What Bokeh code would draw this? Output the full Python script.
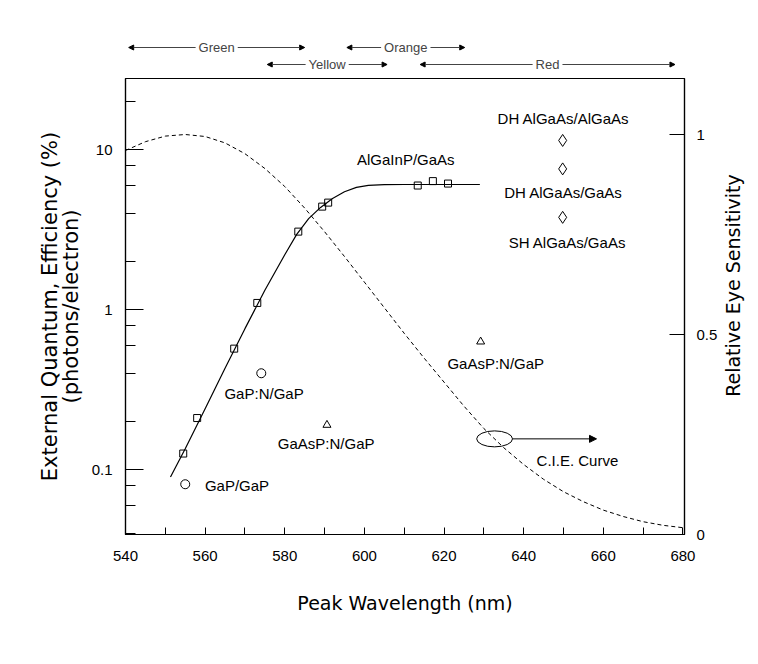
import math
import numpy as np
from bokeh.plotting import figure
from bokeh.models import (Range1d, LinearAxis, LinearScale, FixedTicker, Arrow, NormalHead,
                          Label, CustomJSTickFormatter)
from bokeh.layouts import column, row
from bokeh.embed import file_html
from bokeh.resources import INLINE
from bokeh.core.properties import value

# ---------------- data ----------------
cie_wavelength = [540, 545, 550, 555, 560, 565, 570, 575, 580, 585, 590, 595, 600, 605, 610,
                  615, 620, 625, 630, 635, 640, 645, 650, 655, 660, 665, 670, 675, 680]
cie_sensitivity = [0.96, 0.982, 0.996, 1.0, 0.995, 0.979, 0.952, 0.915, 0.870, 0.816, 0.757,
                   0.695, 0.631, 0.567, 0.503, 0.441, 0.381, 0.321, 0.265, 0.217, 0.175,
                   0.138, 0.107, 0.082, 0.061, 0.045, 0.032, 0.023, 0.017]

fit_wavelength = [551.3, 555, 560, 565, 570, 575, 580, 583, 586, 589, 592, 595, 598, 601,
                  605, 610, 629]
fit_efficiency = [0.09, 0.135, 0.24, 0.43, 0.76, 1.32, 2.2, 2.95, 3.7, 4.35, 4.95, 5.45,
                  5.8, 5.98, 6.04, 6.05, 6.05]

algainp_wavelength = [554.5, 558.0, 567.3, 573.1, 583.4, 589.4, 590.9, 613.4, 617.2, 621.0]
algainp_efficiency = [0.126, 0.21, 0.57, 1.1, 3.07, 4.4, 4.66, 5.96, 6.35, 6.13]

gap_wavelength = [555.0, 574.1]
gap_efficiency = [0.081, 0.40]

gaasp_wavelength = [590.6, 629.2]
gaasp_efficiency = [0.19, 0.63]

algaas_wavelength = [649.8, 649.8, 649.8]
algaas_efficiency = [11.4, 7.57, 3.77]

label_text = ["AlGaInP/GaAs", "DH AlGaAs/AlGaAs", "DH AlGaAs/GaAs", "SH AlGaAs/GaAs",
              "GaP:N/GaP", "GaAsP:N/GaP", "GaP/GaP", "GaAsP:N/GaP", "C.I.E. Curve"]
label_wavelength = [610.4, 650.0, 650.0, 651.0, 574.8, 590.4, 568.0, 633.0, 653.5]
label_efficiency = [8.66, 15.6, 5.39, 2.62, 0.298, 0.145, 0.079, 0.46, 0.114]

cie_callout_wavelength = 632.7
cie_arrow_end = 658.3

band_names = ["Green", "Orange", "Yellow", "Red"]
band_start = [540.8, 595.6, 575.6, 614.0]
band_end = [585.0, 625.2, 605.7, 678.0]
band_row = [1, 1, 2, 2]

x_ticks = [540, 560, 580, 600, 620, 640, 660, 680]
x_minor_ticks = [550, 570, 590, 610, 630, 650, 670]
y_ticks = [0.1, 1, 10]
y_minor_ticks = [0.04, 0.06, 0.08, 0.2, 0.4, 0.6, 0.8, 2, 4, 6, 8, 20]
eye_ticks = [0, 0.5, 1]

# ---------------- layout constants ----------------
W = 756
LB = 125
FRAME_RIGHT = 684
MAIN_W = 720
SIDE_W = W - MAIN_W
TOP_H, MAIN_H = 74, 588
label_font = "Liberation Sans"
title_font = "DejaVu Sans"

x_range = Range1d(540, 680.4)

# ---------------- colour-band strip above the chart ----------------
top = figure(width=W, height=TOP_H, x_range=x_range, y_range=Range1d(0, TOP_H),
             output_backend="svg", toolbar_location=None,
             x_axis_location=None, y_axis_location=None,
             min_border_left=LB, min_border_right=W - FRAME_RIGHT,
             min_border_top=0, min_border_bottom=0)
top.grid.visible = False
top.outline_line_color = None
row_y = {1: 27, 2: 10}
for name, s, e, r in zip(band_names, band_start, band_end, band_row):
    top.add_layout(Arrow(start=NormalHead(size=5, fill_color="black", line_color="black"),
                         end=NormalHead(size=5, fill_color="black", line_color="black"),
                         x_start=s, x_end=e, y_start=row_y[r], y_end=row_y[r],
                         line_width=1, line_color="#444444"))
for name, s, e, r in zip(band_names, band_start, band_end, band_row):
    top.add_layout(Label(x=(s + e) / 2, y=row_y[r], text=name, text_align="center",
                         text_baseline="middle", text_font=label_font, text_font_size="13px",
                         background_fill_color="white", padding=3))

# ---------------- main chart ----------------
p = figure(width=MAIN_W, height=MAIN_H, x_range=x_range, y_range=Range1d(0.0393, 27.8),
           y_axis_type="log", output_backend="svg", toolbar_location=None,
           min_border_left=LB, min_border_right=MAIN_W - FRAME_RIGHT, min_border_top=4,
           min_border_bottom=MAIN_H - (534 - TOP_H))
p.extra_y_ranges = {"eye": Range1d(0, 1.14)}
p.extra_y_scales = {"eye": LinearScale()}
p.grid.visible = False
p.outline_line_color = "black"
p.outline_line_width = 1.2
p.outline_line_alpha = 1.0
p.background_fill_color = "white"
p.border_fill_color = "white"

fmt = CustomJSTickFormatter(code="return tick.toString();")

xa = p.xaxis[0]
xa.ticker = FixedTicker(ticks=x_ticks, minor_ticks=x_minor_ticks)
xa.major_tick_in, xa.major_tick_out = 7, 0
xa.minor_tick_in, xa.minor_tick_out = 7, 0
xa.major_label_standoff = 16
xa.axis_label = "Peak Wavelength (nm)"
xa.axis_label_standoff = 28

ya = p.yaxis[0]
ya.ticker = FixedTicker(ticks=y_ticks, minor_ticks=y_minor_ticks)
ya.formatter = fmt
ya.major_tick_in, ya.major_tick_out = 18, 0
ya.minor_tick_in, ya.minor_tick_out = 10, 0
ya.major_label_standoff = 13
ya.axis_label = "External Quantum, Efficiency (%)\n(photons/electron)"
ya.axis_label_standoff = 6

ra = LinearAxis(y_range_name="eye")
ra.ticker = FixedTicker(ticks=eye_ticks, minor_ticks=[])
ra.formatter = fmt
ra.major_tick_in, ra.major_tick_out = 15, 0
ra.minor_tick_in, ra.minor_tick_out = 0, 0
ra.major_label_standoff = 12
p.add_layout(ra, "right")

for ax in (xa, ya, ra):
    ax.axis_line_color = "black"
    ax.axis_line_width = 1.2
    ax.major_tick_line_color = "black"
    ax.minor_tick_line_color = "black"
    ax.major_label_text_font = label_font
    ax.major_label_text_font_size = "15px"
    ax.major_label_text_color = "black"
    ax.axis_label_text_font = title_font
    ax.axis_label_text_font_size = "19px"
    ax.axis_label_text_font_style = "normal"
    ax.axis_label_text_color = "black"
ya.axis_label_text_font_size = "21px"
ya.axis_label_text_line_height = 0.85

# CIE eye-sensitivity curve
p.line(cie_wavelength, cie_sensitivity, y_range_name="eye", line_color="black",
       line_width=1, line_dash="4 3")

# AlGaInP fitted curve and measured points
p.line(fit_wavelength, fit_efficiency, line_color="black", line_width=1.2)
p.scatter(algainp_wavelength, algainp_efficiency, marker="square", size=7,
          fill_color=None, line_color="black", line_width=1)
p.scatter(gap_wavelength, gap_efficiency, marker="circle", size=9,
          fill_color=None, line_color="black", line_width=1)
p.scatter(gaasp_wavelength, gaasp_efficiency, marker="triangle", size=8,
          fill_color=None, line_color="black", line_width=1)
p.scatter(algaas_wavelength, algaas_efficiency, marker="diamond", size=12,
          fill_color=None, line_color="black", line_width=1)

p.text(x=label_wavelength, y=label_efficiency, text=label_text,
       text_font=value(label_font), text_font_size="15px", text_color="black",
       text_align="center", text_baseline="middle")

# C.I.E. callout: ellipse on the curve and arrow to its label
cie_y = float(np.interp(cie_callout_wavelength, cie_wavelength, cie_sensitivity))
p.ellipse(x=[cie_callout_wavelength], y=[cie_y], width=[9.0], height=[0.04],
          y_range_name="eye", fill_color=None, line_color="black", line_width=1)
p.add_layout(Arrow(end=NormalHead(size=7, fill_color="black", line_color="black"),
                   x_start=cie_callout_wavelength + 4.5, y_start=cie_y,
                   x_end=cie_arrow_end, y_end=cie_y, y_range_name="eye",
                   line_color="black", line_width=1))

# ---------------- right-hand axis title (reads bottom-to-top) ----------------
side = figure(width=SIDE_W, height=MAIN_H, x_range=Range1d(0, SIDE_W),
              y_range=Range1d(0, MAIN_H), output_backend="svg", toolbar_location=None,
              x_axis_location=None, y_axis_location=None,
              min_border_left=0, min_border_right=0, min_border_top=0, min_border_bottom=0)
side.grid.visible = False
side.outline_line_color = None
side.add_layout(Label(x=12, y=321, text="Relative Eye Sensitivity",
                      angle=math.pi / 2, text_align="center", text_baseline="middle",
                      text_font=title_font, text_font_size="19px", text_color="black"))

layout = column(top, row(p, side, spacing=0), spacing=0)
open("out.html", "w").write(file_html(layout, INLINE))
